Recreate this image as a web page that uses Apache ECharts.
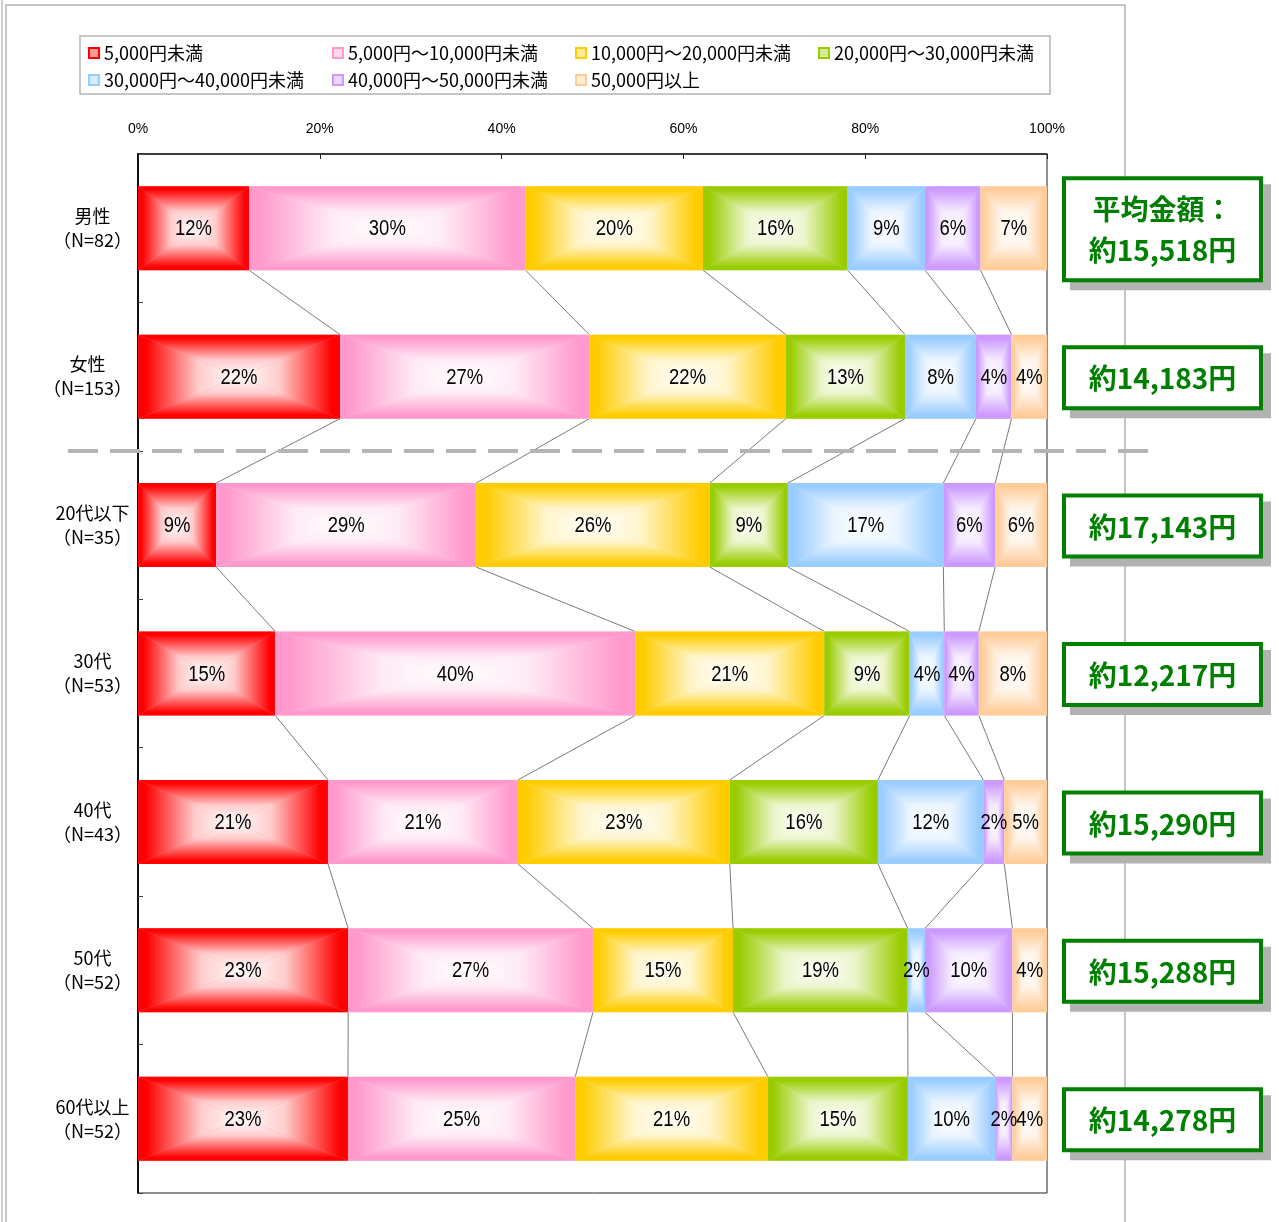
<!DOCTYPE html>
<html>
<head>
<meta charset="utf-8">
<script src="https://cdn.jsdelivr.net/npm/echarts@6/dist/echarts.min.js"></script>
<style>
  html, body { margin: 0; padding: 0; background: #fff; }
  #main { width: 1279px; height: 1222px; }
</style>
</head>
<body>
<div id="main"></div>
<script>
// カテゴリ（上から順）
const CATEGORIES = ['男性', '女性', '20代以下', '30代', '40代', '50代', '60代以上'];
const SAMPLE_N = [82, 153, 35, 53, 43, 52, 52];
const AVG_YEN = ['15,518', '14,183', '17,143', '12,217', '15,290', '15,288', '14,278'];

// 金額帯ごとの割合（%）
const SERIES_NAMES = [
  '5,000円未満', '5,000円～10,000円未満', '10,000円～20,000円未満', '20,000円～30,000円未満',
  '30,000円～40,000円未満', '40,000円～50,000円未満', '50,000円以上'
];
const UNDER_5K  = [12.2, 22.2, 8.6, 15.1, 20.9, 23.1, 23.1];
const R5K_10K   = [30.4, 27.4, 28.6, 39.6, 20.9, 26.9, 25.0];
const R10K_20K  = [19.5, 21.6, 25.7, 20.8, 23.3, 15.4, 21.2];
const R20K_30K  = [15.9, 13.1, 8.6, 9.4, 16.3, 19.2, 15.4];
const R30K_40K  = [8.5, 7.8, 17.1, 3.8, 11.6, 1.9, 9.6];
const R40K_50K  = [6.1, 3.9, 5.7, 3.8, 2.3, 9.6, 1.9];
const OVER_50K  = [7.3, 3.9, 5.7, 7.5, 4.7, 3.8, 3.8];
const SHARES = [UNDER_5K, R5K_10K, R10K_20K, R20K_30K, R30K_40K, R40K_50K, OVER_50K];

const X_TICKS = [0, 20, 40, 60, 80, 100];

const COLORS = ['#ff0000', '#ff99cc', '#ffcc00', '#99cc00', '#99ccff', '#cc99ff', '#ffcc99'];
const BAR_RATIO = 0.566;
const NUM_FONT = "'Liberation Sans', Arial, sans-serif";
const JP_FONT = "'Noto Sans CJK JP', sans-serif";

function mix(hex, t) { // t=1 で白
  const r = parseInt(hex.slice(1, 3), 16), g = parseInt(hex.slice(3, 5), 16), b = parseInt(hex.slice(5, 7), 16);
  const m = c => Math.round(c + (255 - c) * t);
  return 'rgb(' + m(r) + ',' + m(g) + ',' + m(b) + ')';
}
function stops(c) {
  return [
    { offset: 0, color: c },
    { offset: 0.08, color: c },
    { offset: 0.6, color: mix(c, 0.8) },
    { offset: 1, color: '#ffffff' }
  ];
}

// 行ごとの累積（100%に正規化）
const cum = CATEGORIES.map((c, i) => {
  const total = SHARES.reduce((s, arr) => s + arr[i], 0);
  const out = [0];
  let acc = 0;
  SHARES.forEach(arr => { acc += arr[i]; out.push(acc / total * 100); });
  return out;
});

// 中心から広がる四角グラデーション（4つの三角形）
function makeBarRenderer(color) {
  const st = stops(color);
  const lin = (a, b, c, d) => ({ type: 'linear', x: a, y: b, x2: c, y2: d, colorStops: st });
  return function (params, api) {
    const cat = api.value(0);
    const p0 = api.coord([api.value(1), cat]);
    const p1 = api.coord([api.value(2), cat]);
    const h = api.size([0, 1])[1] * BAR_RATIO;
    const x0 = p0[0], x1 = p1[0], y0 = p0[1] - h / 2, y1 = p0[1] + h / 2;
    const cx = (x0 + x1) / 2, cy = p0[1];
    return {
      type: 'group',
      children: [
        { type: 'rect', shape: { x: x0, y: y0, width: x1 - x0, height: h }, style: { fill: mix(color, 0.5) } },
        { type: 'polygon', shape: { points: [[x0, y0], [x1, y0], [cx, cy]] }, style: { fill: lin(0, 0, 0, 1) } },
        { type: 'polygon', shape: { points: [[x0, y1], [x1, y1], [cx, cy]] }, style: { fill: lin(0, 1, 0, 0) } },
        { type: 'polygon', shape: { points: [[x0, y0], [x0, y1], [cx, cy]] }, style: { fill: lin(0, 0, 1, 0) } },
        { type: 'polygon', shape: { points: [[x1, y0], [x1, y1], [cx, cy]] }, style: { fill: lin(1, 0, 0, 0) } },
        {
          type: 'text', x: cx, y: cy + 1, scaleX: 0.84, z2: 100,
          style: {
            text: Math.round(api.value(3)) + '%', x: 0, y: 0,
            align: 'center', verticalAlign: 'middle',
            fontSize: 22, fontFamily: NUM_FONT, fill: '#000'
          }
        }
      ]
    };
  };
}

function renderLink(params, api) {
  const i = api.value(0);
  const p1 = api.coord([api.value(1), i]);
  const p2 = api.coord([api.value(2), i + 1]);
  const h = api.size([0, 1])[1] * BAR_RATIO / 2;
  return {
    type: 'line',
    shape: { x1: p1[0], y1: p1[1] + h, x2: p2[0], y2: p2[1] - h },
    style: { stroke: '#7a7a7a', lineWidth: 1 }
  };
}

function renderBox(params, api) {
  const i = api.value(0);
  const p = api.coord([100, i]);
  const first = i === 0;
  const hgt = first ? 106 : 65;
  const x = p[0] + 15, y = p[1] - hgt / 2 + 1, w = 201;
  const text = first ? '平均金額：\n約' + AVG_YEN[i] + '円' : '約' + AVG_YEN[i] + '円';
  return {
    type: 'group',
    children: [
      { type: 'rect', shape: { x: x + 8, y: y + 8, width: w, height: hgt }, style: { fill: '#b2b2b2' } },
      { type: 'rect', shape: { x: x + 2, y: y + 2, width: w - 4, height: hgt - 4 }, style: { fill: '#fff', stroke: '#008000', lineWidth: 4 } },
      {
        type: 'text',
        style: {
          text: text, x: x + w / 2, y: y + hgt / 2 + 1, align: 'center', verticalAlign: 'middle',
          fontSize: 28, fontWeight: 'bold', fontFamily: JP_FONT, fill: '#008000', lineHeight: 41
        }
      }
    ]
  };
}

const barSeries = SHARES.map((arr, s) => ({
  name: SERIES_NAMES[s],
  type: 'custom',
  renderItem: makeBarRenderer(COLORS[s]),
  encode: { x: [1, 2], y: 0 },
  itemStyle: { color: COLORS[s] },
  data: CATEGORIES.map((c, i) => [i, cum[i][s], cum[i][s + 1], arr[i]]),
  z: 3
}));

const linkData = [];
for (let i = 0; i < CATEGORIES.length - 1; i++) {
  for (let k = 1; k < SHARES.length; k++) linkData.push([i, cum[i][k], cum[i + 1][k]]);
}

const legendCols = [[0, 4], [1, 5], [2, 6], [3]];
const legendLeft = [88, 332, 575, 818];
const legends = legendCols.map((idx, n) => ({
  orient: 'vertical', left: legendLeft[n], top: 43, padding: 0,
  itemWidth: 10, itemHeight: 10, itemGap: 7, selectedMode: false, icon: 'rect',
  textStyle: { fontSize: 18, lineHeight: 20, fontFamily: JP_FONT, color: '#000' },
  data: idx.map(s => ({
    name: SERIES_NAMES[s],
    itemStyle: { color: mix(COLORS[s], 0.6), borderColor: COLORS[s], borderWidth: 2 }
  }))
}));

const chart = echarts.init(document.getElementById('main'));
chart.setOption({
  animation: false,
  legend: legends,
  grid: { left: 138, right: 232, top: 154, bottom: 29, show: true, borderColor: '#222', borderWidth: 1 },
  xAxis: {
    type: 'value', position: 'top', min: 0, max: 100, interval: 20,
    axisLine: { show: true, lineStyle: { color: '#222', width: 1.5 } },
    axisTick: { show: true, inside: true, length: 5, lineStyle: { color: '#222' } },
    splitLine: { show: false },
    axisLabel: {
      margin: 18, fontSize: 14, fontFamily: NUM_FONT, color: '#000',
      formatter: v => X_TICKS.indexOf(v) >= 0 ? v + '%' : ''
    }
  },
  yAxis: {
    type: 'category', inverse: true, data: CATEGORIES,
    axisLine: { show: true, lineStyle: { color: '#111', width: 2 } },
    axisTick: { show: true, inside: true, length: 5, lineStyle: { color: '#444' } },
    axisLabel: {
      margin: 6, align: 'right',
      formatter: (v, i) => '{c|' + v + '}\n{c|（N=' + SAMPLE_N[i] + '）}',
      rich: { c: { align: 'center', fontSize: 18, lineHeight: 24, fontFamily: JP_FONT, color: '#000' } }
    }
  },
  series: [
    {
      type: 'custom', renderItem: renderLink, encode: { x: [1, 2], y: 0 },
      data: linkData, z: 2, silent: true
    },
    ...barSeries,
    {
      type: 'custom', renderItem: renderBox, clip: false, silent: true,
      encode: { y: 0 }, data: CATEGORIES.map((c, i) => [i]), z: 5
    }
  ]
});

// 枠線・凡例枠・区切り破線
const yA = chart.convertToPixel({ yAxisIndex: 0 }, 1);
const yB = chart.convertToPixel({ yAxisIndex: 0 }, 2);
const sepY = Math.round((yA + yB) / 2);
chart.setOption({
  graphic: [
    { type: 'line', shape: { x1: 2, y1: 0, x2: 2, y2: 1222 }, style: { stroke: '#c0c0c0', lineWidth: 1.5 }, z: 0 },
    { type: 'rect', shape: { x: 6, y: 5, width: 1119, height: 1240 }, style: { fill: 'none', stroke: '#b4b4b4', lineWidth: 1.5 }, z: 0 },
    { type: 'rect', shape: { x: 80, y: 36, width: 970, height: 58 }, style: { fill: 'none', stroke: '#b4b4b4', lineWidth: 1.5 }, z: 0 },
    { type: 'line', shape: { x1: 68, y1: sepY, x2: 1157, y2: sepY }, style: { stroke: '#b4b4b4', lineWidth: 4, lineDash: [30, 12] }, z: 10 }
  ]
});
</script>
</body>
</html>
